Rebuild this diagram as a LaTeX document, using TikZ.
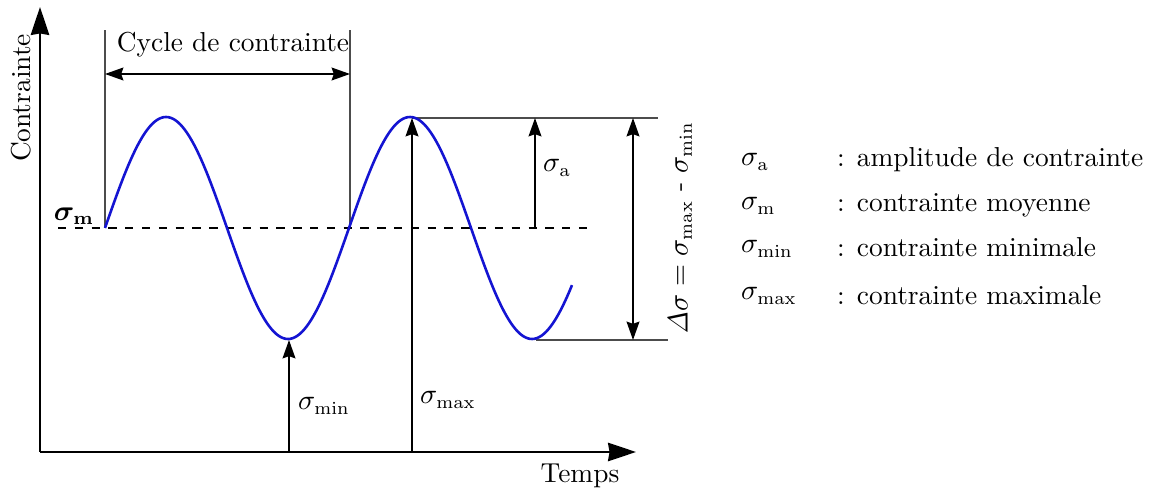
\documentclass[tikz,border=0pt]{standalone}
\usepackage{bm}
\usetikzlibrary{arrows.meta}
\begin{document}
\begin{tikzpicture}[x=0.0136cm,y=-0.0136cm,
  font=\fontsize{10.6}{12.5}\selectfont,
  axis/.style={line width=0.8pt,-{Stealth[length=0.38cm,width=0.25cm,inset=0.02cm]}},
  arr/.style={line width=0.6pt,-{Stealth[length=0.25cm,width=0.175cm,inset=0.03cm]}},
  darr/.style={line width=0.6pt,{Stealth[length=0.25cm,width=0.175cm,inset=0.03cm]}-{Stealth[length=0.25cm,width=0.175cm,inset=0.03cm]}},
  guide/.style={line width=0.6pt,black!70},
  lbl/.style={inner sep=1pt}]
\useasboundingbox (0,0) rectangle (1154,491);
% axes
\coordinate (O) at (40,452);
\coordinate (ytop) at (40,7);
\coordinate (xend) at (636,452);
\draw[axis] (O) -- (ytop);
\draw[axis] (O) -- (xend);
\node[rotate=90,lbl] (ylab) at (21,98) {Contrainte};
\node[lbl] (xlab) at (580,476) {Temps};
% cycle guides
\coordinate (c1b) at (105,228);
\coordinate (c1t) at (105,30);
\coordinate (c2b) at (350,228);
\coordinate (c2t) at (350,30);
\draw[guide] (c1b) -- (c1t);
\draw[guide] (c2b) -- (c2t);
\coordinate (d1) at (105,74);
\coordinate (d2) at (350,74);
\draw[darr] (d1) -- (d2);
\node[lbl] (cyc) at (233,45) {Cycle de contrainte};
% mean line
\coordinate (m1) at (58,228);
\coordinate (m2) at (588,228);
\draw[line width=0.6pt,dash pattern=on 3.2pt off 3.3pt] (m1) -- (m2);
\node[lbl] (sm) at (74,216) {$\bm{\sigma}_{\mathbf{m}}$};
% max/min lines
\coordinate (pk) at (412,118);
\coordinate (pkr) at (658,118);
\coordinate (tr) at (536,340);
\coordinate (trr) at (668,340);
\draw[guide] (pk) -- (pkr);
\draw[guide] (tr) -- (trr);
% sine
\definecolor{curve}{RGB}{20,20,210}
\draw[line width=1pt,curve]
  plot[domain=105:572,samples=200] (\x,{228-111*sin((\x-105)/244*360)});
% sigma a
\coordinate (sa0) at (535,228);
\coordinate (sa1) at (535,118);
\draw[arr] (sa0) -- (sa1);
\node[lbl,anchor=west] (salab) at (540,168) {$\sigma_{\mathrm{a}}$};
% delta sigma
\coordinate (ds1) at (633,118);
\coordinate (ds2) at (633,340);
\draw[darr] (ds1) -- (ds2);
\node[rotate=90,lbl] (dslab) at (680,228) {$\mathit{\Delta}\sigma = \sigma_{\mathrm{max}}$ - $\sigma_{\mathrm{min}}$};
% sigma min / max
\coordinate (smin0) at (289,452);
\coordinate (smin1) at (289,340);
\draw[arr] (smin0) -- (smin1);
\node[lbl,anchor=west] (sminlab) at (295,406) {$\sigma_{\mathrm{min}}$};
\coordinate (smax0) at (412,452);
\coordinate (smax1) at (412,118);
\draw[arr] (smax0) -- (smax1);
\node[lbl,anchor=west] (smaxlab) at (417,400) {$\sigma_{\mathrm{max}}$};
% legend
\node[lbl,anchor=west] (l1) at (738,162) {$\sigma_{\mathrm{a}}$};
\node[lbl,anchor=west] (l2) at (738,206) {$\sigma_{\mathrm{m}}$};
\node[lbl,anchor=west] (l3) at (738,249) {$\sigma_{\mathrm{min}}$};
\node[lbl,anchor=west] (l4) at (738,296) {$\sigma_{\mathrm{max}}$};
\node[lbl,anchor=west] (t1) at (834,160) {: amplitude de contrainte};
\node[lbl,anchor=west] (t2) at (834,205) {: contrainte moyenne};
\node[lbl,anchor=west] (t3) at (834,247) {: contrainte minimale};
\node[lbl,anchor=west] (t4) at (834,295) {: contrainte maximale};
\end{tikzpicture}
\end{document}
